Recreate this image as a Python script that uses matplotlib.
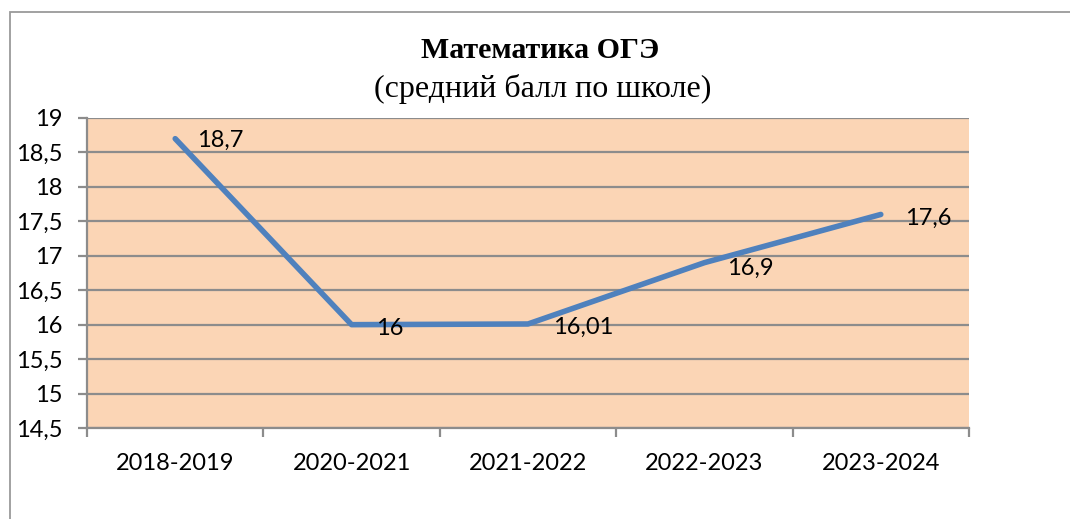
"""
Математика ОГЭ: средний балл по школе по учебным годам.
"""
import numpy as np
import matplotlib
matplotlib.use("Agg")
import matplotlib.pyplot as plt
from matplotlib.patches import Rectangle

years = ["2018-2019", "2020-2021", "2021-2022", "2022-2023", "2023-2024"]
scores = [18.7, 16.0, 16.01, 16.9, 17.6]
score_labels = ["18,7", "16", "16,01", "16,9", "17,6"]
y_ticks = [14.5, 15, 15.5, 16, 16.5, 17, 17.5, 18, 18.5, 19]
y_tick_labels = ["14,5", "15", "15,5", "16", "16,5", "17", "17,5", "18", "18,5", "19"]

grid_col = "#8c8c8c"
fig = plt.figure(figsize=(10.7, 5.19), dpi=100)

# outer chart frame (runs off the picture on the right and bottom)
fig.patches.append(Rectangle((10 / 1070, -0.1), 1.2, 1 - 12 / 519 + 0.1,
                             transform=fig.transFigure, fill=False,
                             edgecolor="#9a9a9a", lw=1.3, clip_on=False))

ax = fig.add_axes([87 / 1070, 1 - 428 / 519, 882 / 1070, 310 / 519])
ax.set_facecolor("#fbd5b5")

x = np.arange(len(years))
ax.plot(x, scores, color="#4f81bd", lw=4.0, solid_capstyle="round", zorder=3)

# data labels, offsets in pixels from the point
offsets = [(22, -2), (24, -4), (25, -3), (23, -6), (24, -4)]
for xi, yi, lab, (dx, dy) in zip(x, scores, score_labels, offsets):
    ax.annotate(lab, (xi, yi), xytext=(dx, dy), textcoords="offset pixels",
                ha="left", va="center", fontsize=17, family="Lato", zorder=4)

ax.set_xlim(-0.5, len(years) - 0.5)
ax.set_ylim(14.5, 19)
ax.set_yticks(y_ticks)
ax.set_yticklabels(y_tick_labels, fontsize=17, family="Lato")
ax.yaxis.grid(True, color=grid_col, lw=1.6)
ax.set_axisbelow(True)

ax.set_xticks(np.arange(len(years) + 1) - 0.5)
ax.set_xticklabels([])
ax.set_xticks(x, minor=True)
ax.set_xticklabels(years, minor=True, fontsize=17, family="Lato")
ax.tick_params(axis="x", which="minor", length=0, pad=18)
ax.tick_params(axis="x", which="major", length=6.5, width=1.6, color=grid_col)
ax.tick_params(axis="y", length=6.5, width=1.6, color=grid_col, pad=11)

for side in ["top", "right"]:
    ax.spines[side].set_visible(False)
for side in ["left", "bottom"]:
    ax.spines[side].set_color(grid_col)
    ax.spines[side].set_linewidth(1.6)

fig.text(0.505, 1 - 50 / 519, "Математика ОГЭ", ha="center", va="center",
         fontsize=21.5, fontweight="bold", family="Liberation Serif")
fig.text(0.507, 1 - 89 / 519, "(средний балл по школе)", ha="center", va="center",
         fontsize=23, family="Liberation Serif")

fig.savefig("out.png", dpi=100)
